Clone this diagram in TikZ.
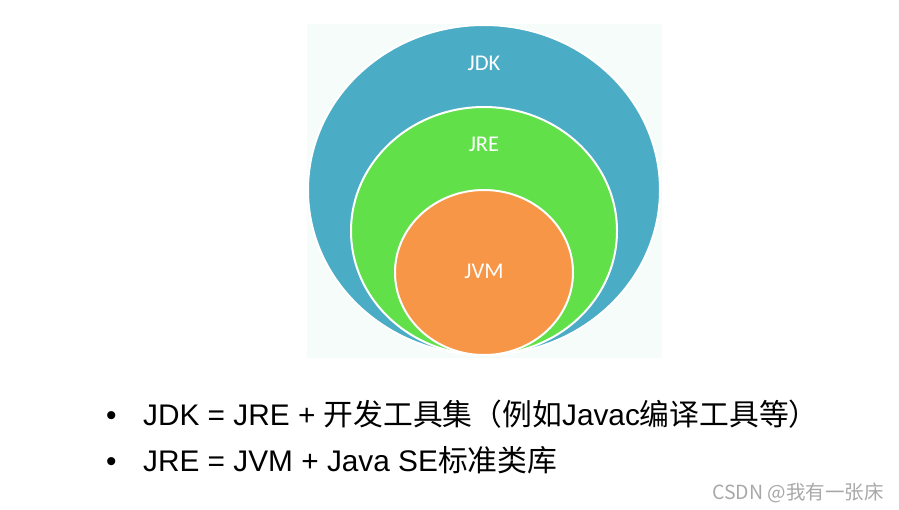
\documentclass[tikz,border=0pt]{standalone}
\usepackage{fontspec}
\setmainfont{Liberation Sans}
\newfontfamily\cjk{Noto Sans CJK SC}
\newfontfamily\lbl{Carlito}
\newcommand{\zh}[1]{{\cjk #1}}
\definecolor{jdkblue}{HTML}{4BACC6}
\definecolor{jregreen}{HTML}{61E049}
\definecolor{jvmorange}{HTML}{F79646}
\definecolor{bgtint}{HTML}{F6FCF9}
\definecolor{markgray}{HTML}{A8A8A8}
\begin{document}
\begin{tikzpicture}[x=1pt,y=-1pt,
		ring/.style={draw=white, line width=2pt},
		tag/.style={text=white, font=\lbl\fontsize{22.5}{25}\selectfont, anchor=base, inner sep=0pt},
		line/.style={font=\fontsize{29.8}{34}\selectfont, anchor=base west, inner sep=0pt}]
		\useasboundingbox (0,0) rectangle (899,510);
		\fill[bgtint] (307,24) rectangle (662,358);
		
		% Nested circles
		\filldraw[ring, fill=jdkblue] (484,190) ellipse [x radius=176pt, y radius=165pt];
		\filldraw[ring, fill=jregreen] (484,231) ellipse [x radius=133pt, y radius=124pt];
		\filldraw[ring, fill=jvmorange] (484,272.5) ellipse [x radius=89pt, y radius=82.5pt];
		
		% Labels
		\node[tag] (jdk) at (484,71) {JDK};
		\node[tag] (jre) at (484,152) {JRE};
		\node[tag] (jvm) at (484,279) {JVM};
		
		% Bullet lines
		\node[line] (b1) at (106,425) {•};
		\node[line] (t1) at (143,425) {JDK = JRE + \zh{开发工具集（例如}Javac\zh{编译工具等）}};
		\node[line] (b2) at (106,471) {•};
		\node[line] (t2) at (143,471) {JRE = JVM + Java SE\zh{标准类库}};
		
		\node[anchor=base west, inner sep=0pt, text=markgray, font=\cjk\fontsize{19.5}{21}\selectfont] (mark) at (712,499) {CSDN @我有一张床};
	\end{tikzpicture}
\end{document}
